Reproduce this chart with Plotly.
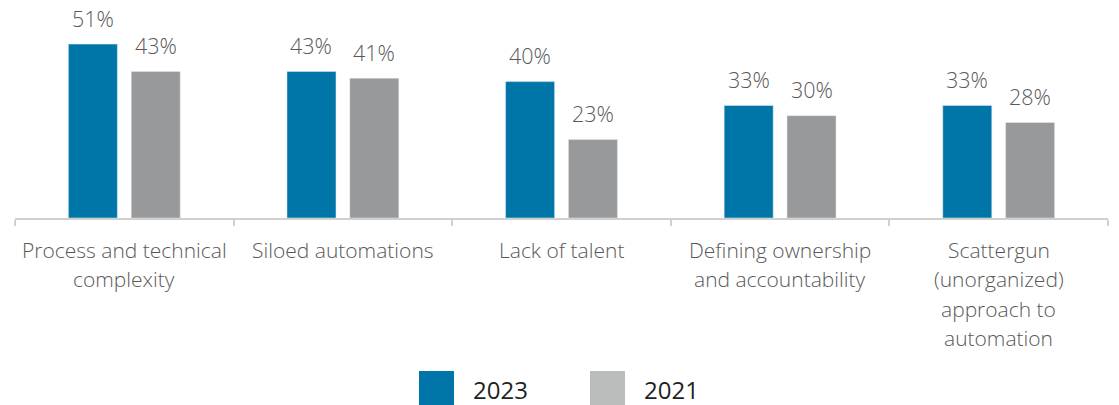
import plotly.graph_objects as go

categories = ["Process and technical<br>complexity", "Siloed automations", "Lack of talent",
              "Defining ownership<br>and accountability",
              "Scattergun<br>(unorganized)<br>approach to<br>automation"]
values_2023 = [51, 43, 40, 33, 33]
values_2021 = [43, 41, 23, 30, 28]
series_names = ["2023", "2021"]

C23 = "#0076A8"
C21 = "#97999B"
C21_LEG = "#BBBCBC"
TXT = "#595959"
FONT = "Open Sans"

# page has an 8px body margin; figure coordinates = page coordinates - 8
W, H = 1111, 397
ML, MR, MT, MB = 7, 11, 2, 187
YMAX = 61
BARGAP = 0.425
PH = H - MT - MB
PW = W - ML - MR

fig = go.Figure()
fig.add_trace(go.Bar(x=categories, y=values_2023, name=series_names[0], marker_color=C23,
                     showlegend=False))
fig.add_trace(go.Bar(x=categories, y=values_2021, name=series_names[1], marker_color=C21,
                     showlegend=False))

# value labels above bars
cat_w = PW / len(categories)
half = cat_w * (1 - BARGAP) / 4
for vals, sh in [(values_2023, -half), (values_2021, half)]:
    for c, v in zip(categories, vals):
        fig.add_annotation(x=c, y=v, text=f"{v}%", showarrow=False, xshift=sh, yshift=26,
                           yanchor="middle", borderpad=0,
                           font=dict(family=FONT, size=21.5, color=TXT, weight=300))

# category labels, one line per annotation for Office-like line spacing
for c in categories:
    for i, line in enumerate(c.split("<br>")):
        fig.add_annotation(x=c, y=0, text=line, showarrow=False, yanchor="middle",
                           yshift=-(32 + i * 29.3), borderpad=0,
                           font=dict(family=FONT, size=21, color=TXT, weight=300))

# legend drawn manually
def py(yfig):
    return 1 - (yfig - MT) / PH

def px(xfig):
    return (xfig - ML) / PW

leg = [(series_names[0], C23, 411), (series_names[1], C21_LEG, 582)]
for name, col, x0 in leg:
    fig.add_shape(type="rect", xref="paper", yref="paper",
                  x0=px(x0), x1=px(x0 + 35), y0=py(363), y1=py(400),
                  fillcolor=col, line_width=0)
    fig.add_annotation(xref="paper", yref="paper", x=px(x0 + 52), y=py(381),
                       text=name, showarrow=False, xanchor="left", yanchor="middle",
                       font=dict(family=FONT, size=24, color="#1F1F1F"))

fig.update_layout(
    width=W, height=H, margin=dict(l=ML, r=MR, t=MT, b=MB),
    barmode="group", bargap=BARGAP, bargroupgap=0.22,
    plot_bgcolor="white", paper_bgcolor="white",
    font=dict(family=FONT, size=19, color=TXT),
    xaxis=dict(showline=True, linecolor="#D0D0D0", linewidth=1.5, ticks="outside",
               tickson="boundaries", ticklen=6, tickcolor="#D0D0D0", tickwidth=1.5,
               showticklabels=False, showgrid=False),
    yaxis=dict(range=[0, YMAX], visible=False, showgrid=False),
)
fig.write_html("out.html")
